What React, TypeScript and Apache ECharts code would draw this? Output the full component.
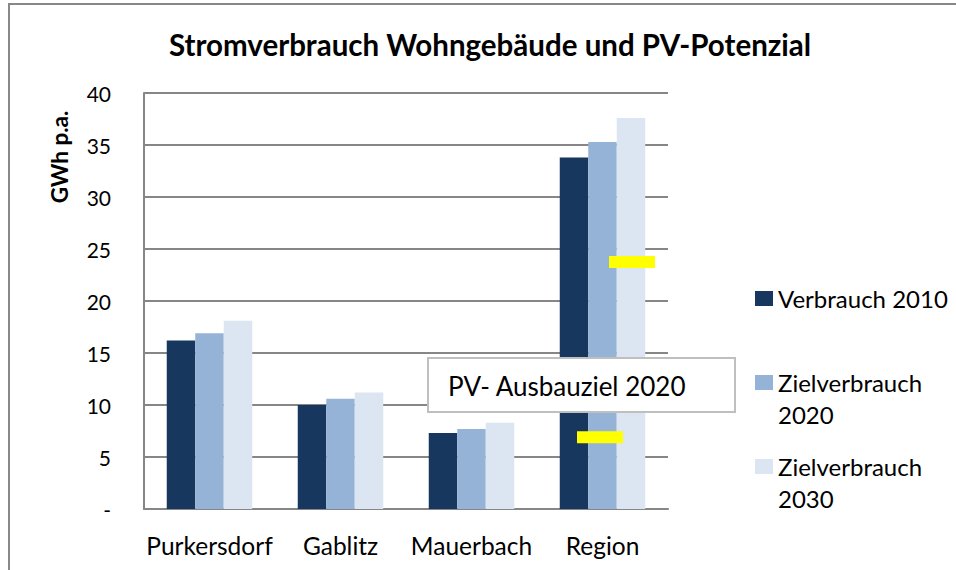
import React, { useEffect, useRef } from "react";
import * as echarts from "echarts";

const categories = ["Purkersdorf", "Gablitz", "Mauerbach", "Region"];
const verbrauch2010 = [16.2, 10.0, 7.3, 33.8];
const ziel2020 = [16.9, 10.6, 7.7, 35.3];
const ziel2030 = [18.1, 11.2, 8.3, 37.6];
const pvTargets = [23.75, 6.9];
const seriesNames = ["Verbrauch 2010", "Zielverbrauch 2020", "Zielverbrauch 2030"];
const colors = ["#17375E", "#95B3D7", "#DCE6F2"];

const FONT = "Lato, 'Noto Sans', sans-serif";

export default function App() {
  const ref = useRef<HTMLDivElement>(null);
  useEffect(() => {
    if (!ref.current) return;
    const chart = echarts.init(ref.current, undefined, { renderer: "svg" });
    const legendText = {
      fontFamily: FONT,
      fontSize: 24,
      color: "#000",
      lineHeight: 32,
    };
    const mkLegend = (name: string, top: number, twoLine: boolean) => ({
      data: [name],
      left: 755,
      top,
      padding: 0,
      orient: "vertical",
      itemWidth: 18,
      itemHeight: 15,
      icon: "rect",
      selectedMode: false,
      formatter: (n: string) => (twoLine ? "\n" + n.replace(" ", "\n") : n),
      textStyle: legendText,
    });
    const barSeries = [verbrauch2010, ziel2020, ziel2030].map((d, i) => ({
      type: "bar",
      name: seriesNames[i],
      data: d,
      barWidth: 28.5,
      barGap: "0%",
      itemStyle: { color: colors[i] },
      z: 2,
    }));
    chart.setOption({
      animation: false,
      backgroundColor: "#fff",
      title: {
        text: "Stromverbrauch Wohngebäude und PV-Potenzial",
        left: 485,
        textAlign: "center",
        top: 24,
        textStyle: { fontFamily: FONT, fontSize: 29.5, fontWeight: "bold", color: "#000" },
      },
      legend: [
        mkLegend(seriesNames[0], 282.5, false),
        mkLegend(seriesNames[1], 334.5, true),
        mkLegend(seriesNames[2], 418.5, true),
      ],
      grid: { left: 144, top: 93, width: 524, height: 416 },
      xAxis: {
        type: "category",
        data: categories,
        axisLine: { show: true, lineStyle: { color: "#868686", width: 2 } },
        axisTick: { show: false },
        axisLabel: { fontFamily: FONT, fontSize: 24.5, color: "#000", margin: 24, interval: 0 },
      },
      yAxis: {
        type: "value",
        min: 0,
        max: 40,
        interval: 5,
        axisLine: { show: true, lineStyle: { color: "#868686", width: 2 } },
        axisTick: { show: false },
        splitLine: { lineStyle: { color: "#868686", width: 2 } },
        axisLabel: {
          fontFamily: FONT,
          fontSize: 21,
          color: "#000",
          margin: 33,
          formatter: (v: number) => (v === 0 ? "-" : String(v)),
        },
      },
      series: [
        ...barSeries,
        {
          type: "scatter",
          name: "PV-Ausbauziel",
          symbol: "rect",
          symbolSize: [46, 12],
          itemStyle: { color: "#FFFF00", opacity: 1 },
          z: 5,
          data: [
            { value: [categories[3], pvTargets[0]], symbolOffset: [29.5, 0] },
            { value: [categories[3], pvTargets[1]], symbolOffset: [-2.5, 0] },
          ],
        },
      ],
      graphic: [
        {
          type: "rect",
          shape: { x: 9, y: 4, width: 1000, height: 700 },
          style: { fill: "none", stroke: "#888", lineWidth: 2 },
          silent: true,
          z: 10,
        },
        {
          type: "text",
          x: 59,
          y: 157,
          rotation: Math.PI / 2,
          style: {
            text: "GWh p.a.",
            fontFamily: FONT,
            fontSize: 22.5,
            fontWeight: "bold",
            fill: "#000",
            align: "center",
            verticalAlign: "middle",
          },
          z: 10,
        },
        {
          type: "group",
          z: 20,
          children: [
            {
              type: "rect",
              shape: { x: 428, y: 358, width: 307, height: 54 },
              style: { fill: "#fff", stroke: "#bfbfbf", lineWidth: 2 },
              z: 20,
            },
            {
              type: "text",
              x: 448,
              y: 386,
              style: {
                text: "PV- Ausbauziel 2020",
                fontFamily: FONT,
                fontSize: 26,
                fill: "#000",
                verticalAlign: "middle",
              },
              z: 21,
            },
          ],
        },
      ],
    });
    return () => chart.dispose();
  }, []);
  return (
    <div
      ref={ref}
      style={{ position: "absolute", left: 0, top: 0, width: 956, height: 570 }}
    />
  );
}
